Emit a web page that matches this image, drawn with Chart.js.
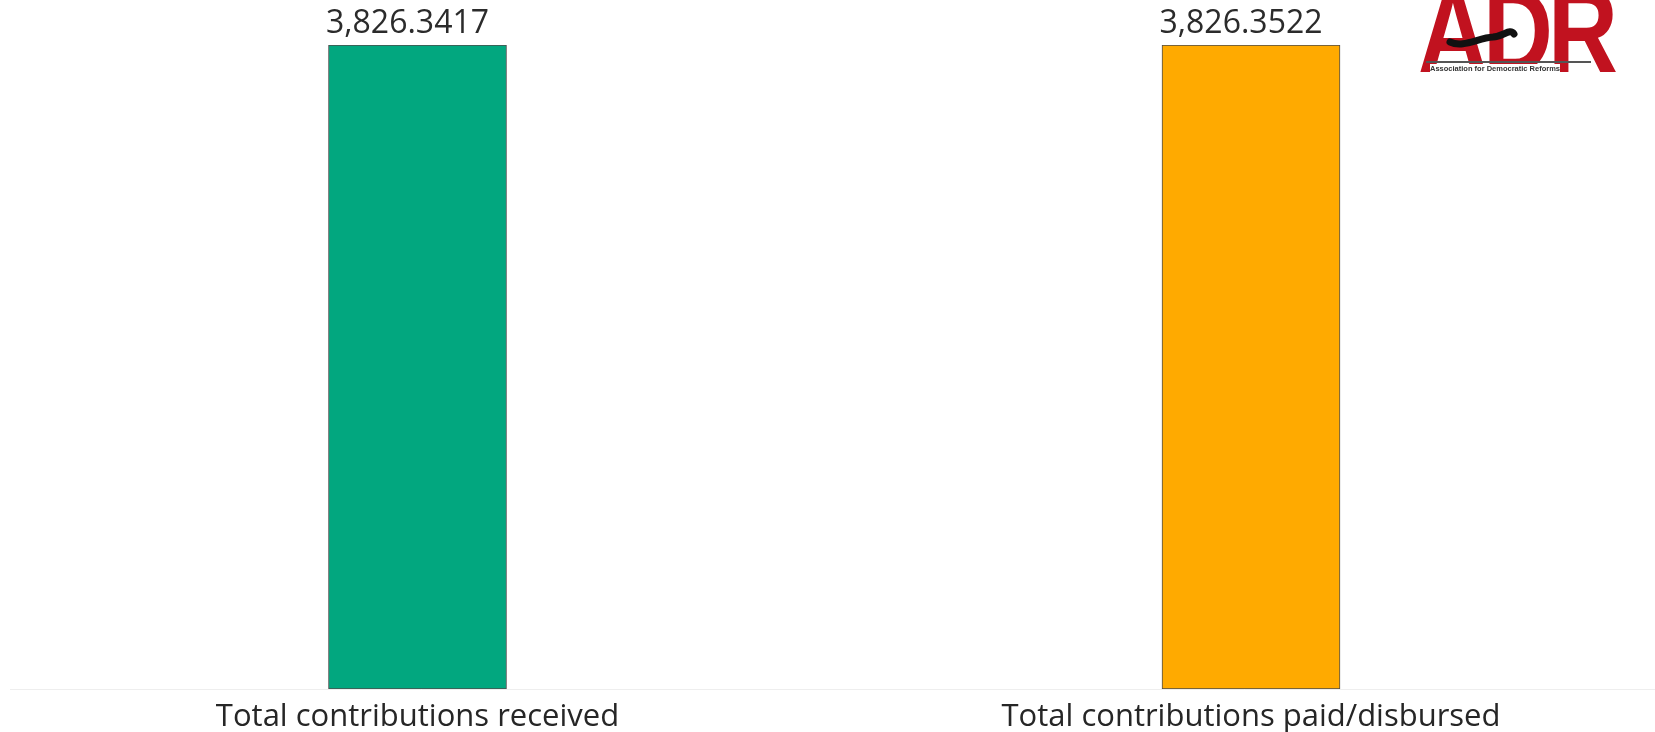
<!DOCTYPE html>
<html>
<head>
<meta charset="utf-8">
<script src="https://cdn.jsdelivr.net/npm/chart.js@4.4.1/dist/chart.umd.min.js"></script>
<style>
    html, body { margin: 0; padding: 0; background: #fff; overflow: hidden; }
    #wrap { position: relative; width: 1655px; height: 732px; }
    #logo { position: absolute; left: 1418px; top: 0; width: 200px; height: 78px; overflow: hidden; }
    #logo .big {
        position: absolute; left: 0; top: -28px;
        font-family: "Liberation Sans", Arial, sans-serif; font-weight: bold;
        font-size: 118px; color: #c1121f; letter-spacing: -6px;
        transform: scaleX(0.82); transform-origin: left top; line-height: 1;
    }
    #logo .rule { position: absolute; left: 8px; top: 61px; width: 165px; height: 2px; background: #555; }
    #logo .small {
        position: absolute; left: 12px; top: 64px; font-family: "Liberation Sans", Arial, sans-serif;
        font-weight: bold; font-size: 7.5px; color: #333; white-space: nowrap; background: #fff;
    }
    #logo svg { position: absolute; left: 0; top: 0; }
</style>
</head>
<body>
<div id="wrap">
    <canvas id="chart" width="1655" height="732"></canvas>
    <div id="logo">
        <div class="big">ADR</div>
        <div class="rule"></div>
        <div class="small">Association for Democratic Reforms</div>
        <svg width="200" height="78"><path d="M32 42 C45 48, 60 38, 75 37 C86 36, 92 28, 96 34" stroke="#111" stroke-width="7" fill="none" stroke-linecap="round"/></svg>
    </div>
</div>
<script>
const categories = ['Total contributions received', 'Total contributions paid/disbursed'];
const values = [3826.3417, 3826.3522];
const barColors = ['#02a77f', '#ffaa00'];

// value text sits a little left of bar centre in the original
const valueLabels = {
    id: 'valueLabels',
    afterDatasetsDraw(chart) {
        const ctx = chart.ctx;
        const meta = chart.getDatasetMeta(0);
        ctx.save();
        ctx.font = '32px "Open Sans", "Noto Sans", sans-serif';
        ctx.fillStyle = '#2b2b2b';
        ctx.textAlign = 'center';
        ctx.textBaseline = 'alphabetic';
        meta.data.forEach((bar, i) => {
            const txt = values[i].toLocaleString('en-US', { minimumFractionDigits: 4, maximumFractionDigits: 4 });
            ctx.fillText(txt, bar.x - 10, bar.y - 12);
        });
        ctx.restore();
    }
};

new Chart(document.getElementById('chart'), {
    type: 'bar',
    data: {
        datasets: [{
            data: values.map((v, i) => ({ x: i, y: v })),
            backgroundColor: barColors,
            borderColor: 'rgba(45,45,45,0.85)',
            borderWidth: 1,
            borderSkipped: false,
            barThickness: 178
        }]
    },
    options: {
        responsive: false,
        animation: false,
        layout: { padding: { top: 45, left: 10, right: 0, bottom: 0 } },
        plugins: { legend: { display: false }, tooltip: { enabled: false } },
        scales: {
            x: {
                type: 'linear',
                offset: false,
                min: -0.4889,
                max: 1.4847,
                grid: { display: false, drawTicks: false },
                border: { display: true, color: '#eeeeee', width: 1 },
                afterBuildTicks(axis) {
                    axis.ticks = categories.map((c, i) => ({ value: i }));
                },
                afterFit(axis) {
                    axis.height = 43;
                },
                ticks: {
                    padding: 10,
                    color: '#262626',
                    font: { family: '"Open Sans", "Noto Sans", sans-serif', size: 31 },
                    maxRotation: 0,
                    autoSkip: false,
                    callback: (v) => categories[v]
                }
            },
            y: {
                display: false,
                min: 0,
                max: 3826.3522
            }
        }
    },
    plugins: [valueLabels]
});
</script>
</body>
</html>
